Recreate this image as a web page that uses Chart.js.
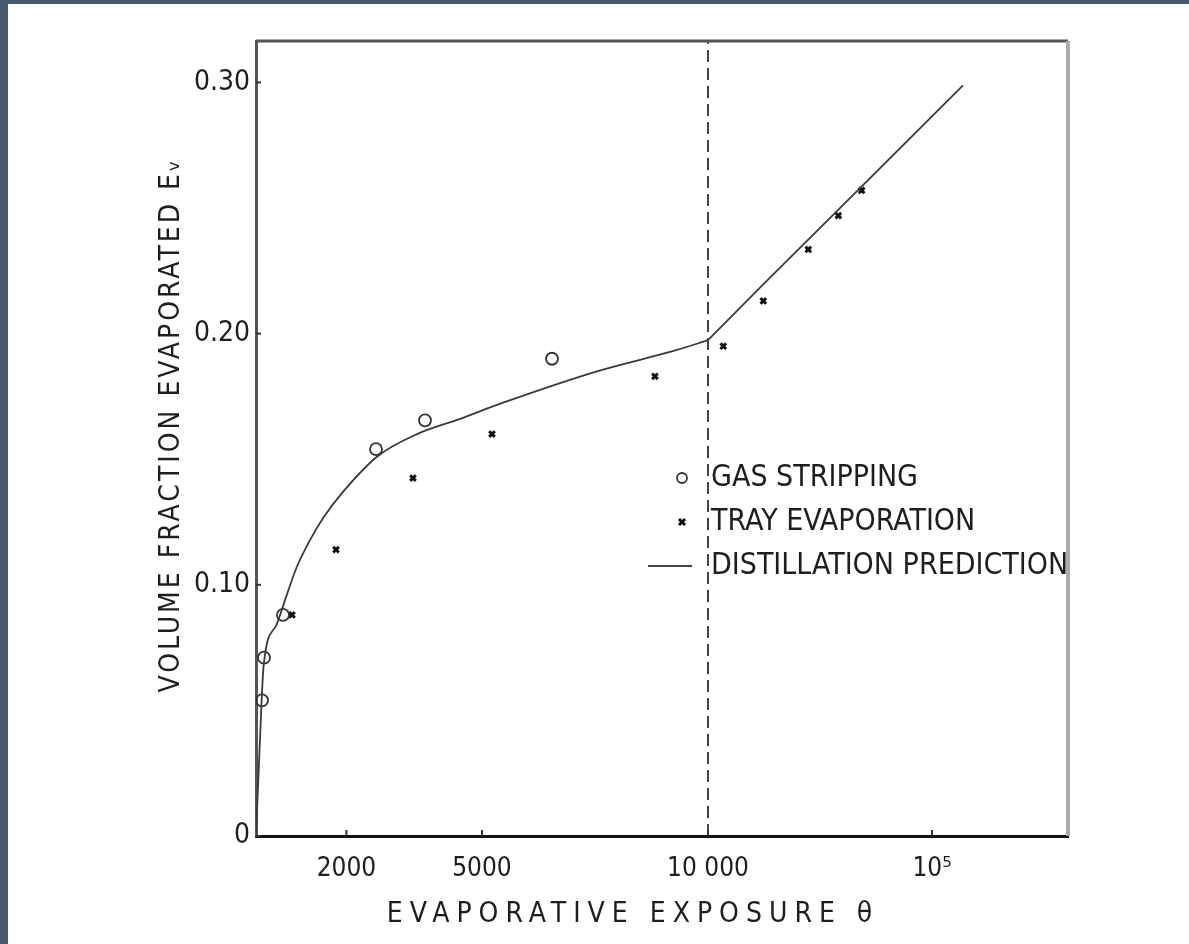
<!DOCTYPE html>
<html>
<head>
<meta charset="utf-8">
<script src="https://cdn.jsdelivr.net/npm/chart.js@4.4.0/dist/chart.umd.min.js"></script>
<style>
  body { margin: 0; background: #4a586d; overflow: hidden; }
  #wrap { position: absolute; left: 8px; top: 4px; width: 1181px; height: 940px; background: #fff; }
</style>
</head>
<body>
<div id="wrap"><canvas id="evap-chart" width="1181" height="940"></canvas></div>
<script>
// values: exposure theta, volume fraction evaporated
const gasExposure = [133, 177, 597, 2655, 3739, 6549];
const gasFraction = [0.054, 0.071, 0.088, 0.154, 0.1655, 0.190];

const trayExposure = [796, 1770, 3473, 5221, 8827, 11700, 17660, 28040, 38170, 48530];
const trayFraction = [0.088, 0.114, 0.1425, 0.160, 0.183, 0.195, 0.213, 0.2335, 0.247, 0.257];

const distExposure = [0, 80, 170, 450, 700, 900, 1200, 1500, 1925, 2677, 3562, 4500, 5465, 7544, 9314, 10000, 17600, 51300, 137500];
const distFraction = [0, 0.035, 0.068, 0.084, 0.097, 0.107, 0.118, 0.127, 0.137, 0.151, 0.160, 0.166, 0.1725, 0.185, 0.1935, 0.1974, 0.2195, 0.2607, 0.2988];

const xTickValues = [2000, 5000, 10000, 100000];
const xTickLabels = ['2000', '5000', '10 000', '10⁵'];
const yTickValues = [0, 0.10, 0.20, 0.30];
const yTickLabels = ['0', '0.10', '0.20', '0.30'];

const legendLabels = ['GAS STRIPPING', 'TRAY EVAPORATION', 'DISTILLATION PREDICTION'];
const xTitle = 'EVAPORATIVE EXPOSURE θ';
const yTitle = 'VOLUME FRACTION EVAPORATED Eᵥ';

// x axis is linear up to 10000, then logarithmic
const LIN_END = 10000;
const DECADE = 4956;
const X_MAX = 17965;
function toAxis(v) {
    return v <= LIN_END ? v : LIN_END + DECADE * Math.log10(v / LIN_END);
}
function pts(xs, ys) {
    return xs.map((v, i) => ({ x: toAxis(v), y: ys[i] }));
}
// prediction curve: smooth in the linear part, straight in the log part
const breakIdx = distExposure.indexOf(LIN_END);
const distCurve = pts(distExposure, distFraction);

const FONT = "'Liberation Sans Narrow', 'DejaVu Sans Condensed', 'Arial Narrow', sans-serif";
const INK = '#1e1e1e';

const framePlugin = {
    id: 'frame',
    afterDatasetsDraw(chart) {
        const ctx = chart.ctx;
        const a = chart.chartArea;
        const xs = chart.scales.x, ys = chart.scales.y;
        ctx.save();
        // top and right border
        ctx.strokeStyle = '#555';
        ctx.lineWidth = 3;
        ctx.beginPath();
        ctx.moveTo(a.left, a.top);
        ctx.lineTo(a.right, a.top);
        ctx.stroke();
        ctx.strokeStyle = '#aaa';
        ctx.lineWidth = 4;
        ctx.beginPath();
        ctx.moveTo(a.right, a.top);
        ctx.lineTo(a.right, a.bottom);
        ctx.stroke();
        // inward tick marks
        ctx.strokeStyle = '#333';
        ctx.lineWidth = 2;
        xTickValues.forEach(v => {
            const px = xs.getPixelForValue(toAxis(v));
            ctx.beginPath();
            ctx.moveTo(px, a.bottom);
            ctx.lineTo(px, a.bottom - 6);
            ctx.stroke();
        });
        yTickValues.forEach(v => {
            const py = ys.getPixelForValue(v);
            ctx.beginPath();
            ctx.moveTo(a.left, py);
            ctx.lineTo(a.left + 5, py);
            ctx.stroke();
        });

        // legend
        const mx = a.left + 426, tx = a.left + 455;
        const rows = [a.top + 437, a.top + 481, a.top + 525];
        ctx.strokeStyle = '#333';
        ctx.lineWidth = 1.8;
        ctx.beginPath();
        ctx.arc(mx, rows[0], 5, 0, Math.PI * 2);
        ctx.stroke();
        ctx.strokeStyle = '#111';
        ctx.lineWidth = 3;
        ctx.beginPath();
        ctx.moveTo(mx - 3, rows[1] - 3); ctx.lineTo(mx + 3, rows[1] + 3);
        ctx.moveTo(mx + 3, rows[1] - 3); ctx.lineTo(mx - 3, rows[1] + 3);
        ctx.stroke();
        ctx.strokeStyle = '#444';
        ctx.lineWidth = 2;
        ctx.beginPath();
        ctx.moveTo(mx - 34, rows[2]);
        ctx.lineTo(mx + 10, rows[2]);
        ctx.stroke();
        ctx.fillStyle = INK;
        ctx.font = '30px ' + FONT;
        ctx.textBaseline = 'middle';
        legendLabels.forEach((t, i) => ctx.fillText(t, tx, rows[i]));

        // spaced-out axis titles
        ctx.textAlign = 'center';
        ctx.font = '28px ' + FONT;
        ctx.letterSpacing = '7px';
        ctx.fillText(xTitle, (a.left + a.right) / 2 - 29, 911);
        ctx.letterSpacing = '3px';
        ctx.translate(164, 421);
        ctx.rotate(-Math.PI / 2);
        ctx.fillText(yTitle, 0, 0);
        ctx.restore();
    }
};

const ctx = document.getElementById('evap-chart').getContext('2d');
const evapChart = new Chart(ctx, {
    type: 'scatter',
    data: {
        datasets: [{
            label: 'break',
            data: pts([LIN_END, LIN_END], [0, 0.3165]),
            showLine: true,
            borderColor: '#444',
            borderWidth: 2,
            borderDash: [12, 6],
            pointRadius: 0
        }, {
            label: legendLabels[2],
            data: distCurve.slice(0, breakIdx + 1),
            showLine: true,
            cubicInterpolationMode: 'monotone',
            borderColor: '#3a3a3a',
            borderWidth: 1.8,
            pointRadius: 0
        }, {
            label: legendLabels[2],
            data: distCurve.slice(breakIdx),
            showLine: true,
            borderColor: '#3a3a3a',
            borderWidth: 1.8,
            pointRadius: 0
        }, {
            label: legendLabels[0],
            data: pts(gasExposure, gasFraction),
            pointStyle: 'circle',
            pointRadius: 6,
            pointBorderWidth: 1.8,
            borderColor: '#333',
            backgroundColor: 'rgba(255,255,255,0)'
        }, {
            label: legendLabels[1],
            data: pts(trayExposure, trayFraction),
            pointStyle: 'crossRot',
            pointRadius: 4,
            pointBorderWidth: 3,
            borderColor: '#111',
            backgroundColor: '#111'
        }]
    },
    options: {
        responsive: false,
        animation: false,
        layout: { padding: { left: 143, right: 121, top: 37, bottom: 8 } },
        plugins: { legend: { display: false }, tooltip: { enabled: false } },
        scales: {
            x: {
                type: 'linear',
                min: 0,
                max: X_MAX,
                afterBuildTicks: s => { s.ticks = xTickValues.map(v => ({ value: toAxis(v) })); },
                afterFit: s => { s.height = 100; },
                ticks: {
                    callback: (v, i) => xTickLabels[i],
                    autoSkip: false,
                    maxRotation: 0,
                    padding: 18,
                    color: INK,
                    font: { family: FONT, size: 26 }
                },
                grid: { drawOnChartArea: false, drawTicks: false },
                border: { color: '#111', width: 3 }
            },
            y: {
                min: 0,
                max: 0.3165,
                afterBuildTicks: s => { s.ticks = yTickValues.map(v => ({ value: v })); },
                afterFit: s => { s.width = 105; },
                ticks: {
                    callback: (v, i) => yTickLabels[i],
                    padding: 6,
                    color: INK,
                    font: { family: FONT, size: 28 }
                },
                grid: { drawOnChartArea: false, drawTicks: false },
                border: { color: '#555', width: 3 }
            }
        }
    },
    plugins: [framePlugin]
});
</script>
</body>
</html>
